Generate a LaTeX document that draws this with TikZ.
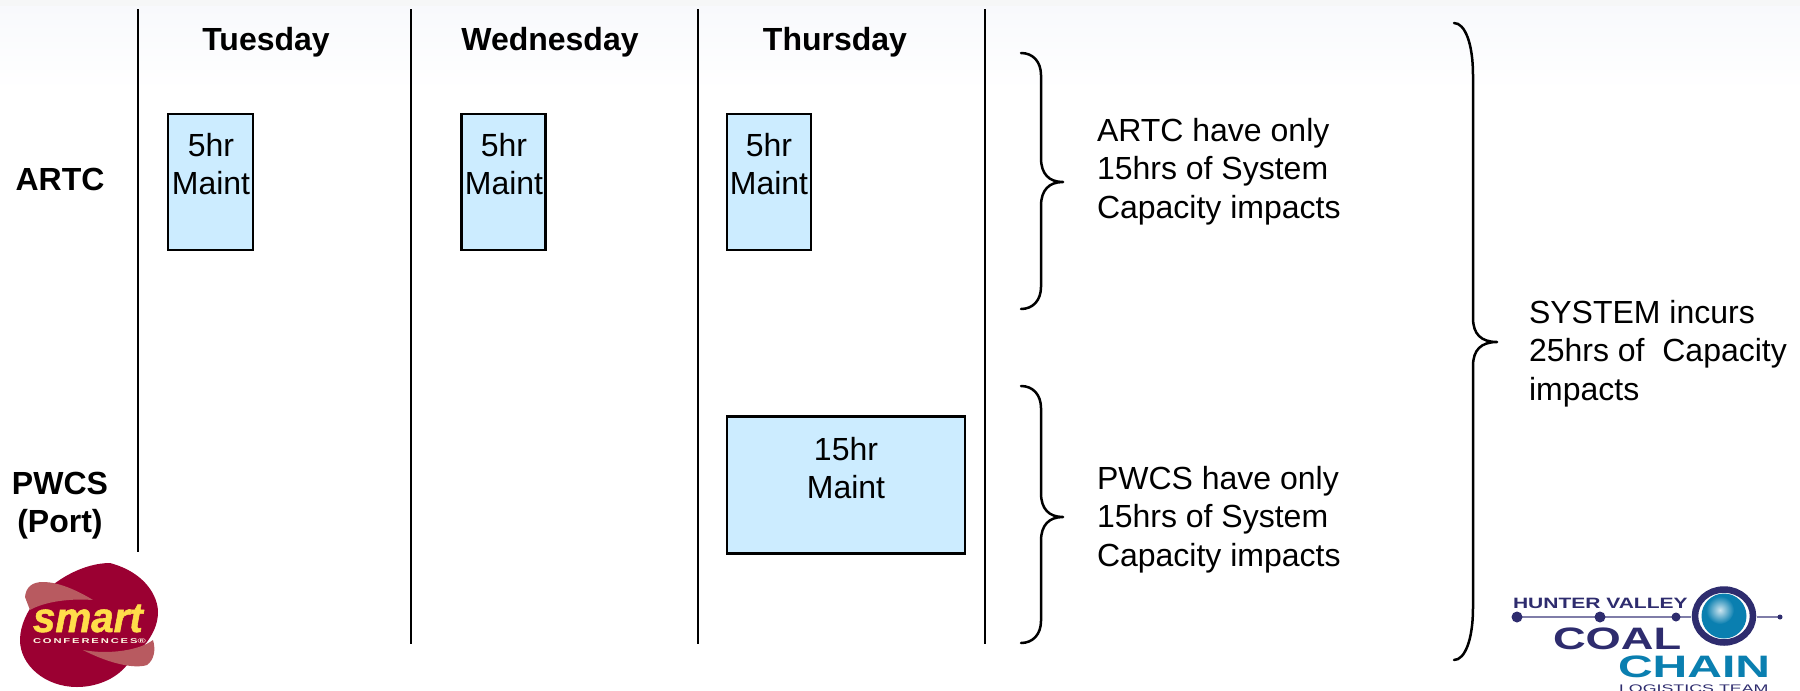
\documentclass[tikz,border=0pt]{standalone}
\usepackage{fontspec}
\setmainfont{Liberation Sans}
\newfontfamily\smartfont[UprightFont=* Bold Italic,UprightFeatures={FakeBold=1.3}]{Liberation Sans}
\newcommand{\mainsize}{\fontsize{32}{38.6}\selectfont}
\definecolor{boxblue}{HTML}{CCECFF}
\definecolor{smartred}{HTML}{9B0032}
\definecolor{smartwing}{HTML}{B85A60}
\definecolor{smartyellow}{HTML}{FFDD4A}
\definecolor{coalnavy}{HTML}{2E2C6E}
\definecolor{chainblue}{HTML}{0A7FB0}
\definecolor{linepurple}{HTML}{7F7DA8}
\definecolor{topband}{HTML}{F8F9FC}
\tikzset{
  x=1pt,y=-1pt,
  txt/.style={inner sep=0pt,outer sep=0pt,font=\mainsize,align=left,anchor=base west},
  ctxt/.style={inner sep=0pt,outer sep=0pt,font=\mainsize,align=center,anchor=base},
  btxt/.style={inner sep=0pt,outer sep=0pt,font=\mainsize\bfseries,align=center,anchor=base},
  maintbox/.style={draw=black,line width=2.5pt,fill=boxblue,inner sep=0pt},
  gridline/.style={draw=black,line width=2.5pt},
  bracecurve/.style={draw=black,line width=2.5pt,line cap=round,line join=round},
  logotxt/.style={inner sep=0pt,outer sep=0pt,anchor=base west}
}
\newcommand{\rightbrace}[7]{% left x, spine x, tip x, top y, tip y, bottom y, corner height
  \draw[bracecurve] (#1,#4) .. controls (#2-8,#4) and (#2,#4+#7*0.4) .. (#2,#4+#7)
    -- (#2,#5-24) .. controls (#2,#5-8) and (#2+8,#5) .. (#3,#5)
    .. controls (#2+8,#5) and (#2,#5+8) .. (#2,#5+24)
    -- (#2,#6-#7) .. controls (#2,#6-#7*0.4) and (#2-8,#6) .. (#1,#6);}
\begin{document}
\begin{tikzpicture}
\useasboundingbox (0,0) rectangle (1800,691);
\begin{scope}
\clip (0,0) rectangle (1800,691);
\fill[white] (0,0) rectangle (1800,691);
\shade[top color=topband,bottom color=white] (0,6) rectangle (1800,90);
\fill[topband!70!gray!20!white] (0,0) rectangle (1800,6);

% column rules
\draw[gridline] (138,9) -- (138,552);
\draw[gridline] (411,9) -- (411,644);
\draw[gridline] (698,9) -- (698,644);
\draw[gridline] (985,9) -- (985,644);

% headers
\node[btxt] (tue) at (266,50) {Tuesday};
\node[btxt] (wed) at (550,50) {Wednesday};
\node[btxt] (thu) at (835,50) {Thursday};
\node[btxt] (artc) at (60,190) {ARTC};
\node[btxt] (pwcs) at (60,532.6) {PWCS\\(Port)};

% maintenance boxes
\node[maintbox,minimum width=85pt,minimum height=136pt] (b1) at (210.5,182) {};
\node[maintbox,minimum width=84pt,minimum height=136pt] (b2) at (503.5,182) {};
\node[maintbox,minimum width=84pt,minimum height=136pt] (b3) at (769,182) {};
\node[maintbox,minimum width=238pt,minimum height=137pt] (b4) at (846,485) {};
\node[ctxt] (t1) at (211,194.6) {5hr\\Maint};
\node[ctxt] (t2) at (504,194.6) {5hr\\Maint};
\node[ctxt] (t3) at (769,194.6) {5hr\\Maint};
\node[ctxt] (t4) at (846,498.6) {15hr\\Maint};

% braces
\rightbrace{1021}{1041}{1063}{53}{182}{309}{22}
\rightbrace{1021}{1041}{1063}{386}{517}{643}{22}
\rightbrace{1454}{1473}{1497}{23}{342}{660}{52}

% brace texts
\node[txt] (ta) at (1097,218.2) {ARTC have only\\15hrs of System\\Capacity impacts};
\node[txt] (tp) at (1097,566.2) {PWCS have only\\15hrs of System\\Capacity impacts};
\node[txt] (ts) at (1529,400.2) {SYSTEM incurs\\25hrs of\ \ Capacity\\impacts};

% smart logo
\fill[smartred] (110,563) .. controls (147,573) and (158,598) .. (158,612)
  .. controls (158,625) and (152,635) .. (147,642) -- (127,665)
  .. controls (115,680) and (95,687) .. (77,687)
  .. controls (45,687) and (20,665) .. (20,640)
  .. controls (20,625) and (28,610) .. (35,602)
  .. controls (55,578) and (85,563) .. (110,563) -- cycle;
\fill[smartwing] (25,597) .. controls (26,587) and (32,582) .. (43,582) .. controls (60,582) and (80,592) .. (93,600) .. controls (65,598) and (42,603) .. (30,610) -- cycle;
\fill[smartwing] (83,650) .. controls (110,655) and (140,650) .. (153,640) .. controls (156,650) and (154,660) .. (147,665) .. controls (135,669) and (110,664) .. (83,650) -- cycle;
\node[logotxt,text=smartyellow,font=\fontsize{42}{42}\smartfont\selectfont,xscale=0.96] (smart) at (33,632) {smart};
\node[logotxt,text=white!85!smartyellow,font=\fontsize{7}{7}\selectfont\bfseries,xscale=1.6] (conf) at (33,643) {C\,O\,N\,F\,E\,R\,E\,N\,C\,E\,S®};

% hunter valley logo
\draw[linepurple,line width=1.2pt] (1517,617) -- (1780,617);
\fill[coalnavy] (1517,617) circle (5.5);
\fill[coalnavy] (1600,617) circle (5.5);
\fill[coalnavy] (1676,617) circle (4.5);
\fill[coalnavy] (1780,617) circle (2.5);
\fill[white] (1724,616) circle (33);
\draw[coalnavy,line width=6.5pt] (1724,616) ellipse (29 and 26.5);
\fill[chainblue] (1724,616) circle (22.5);
\shade[inner color=white!80!chainblue,outer color=chainblue] (1720,610) circle (14);
\node[logotxt,text=coalnavy,font=\fontsize{15}{15}\selectfont\bfseries,xscale=1.40] (hv) at (1513,608) {HUNTER VALLEY};
\node[logotxt,text=coalnavy,font=\fontsize{31}{31}\selectfont\bfseries,xscale=1.46] (coal) at (1553,649) {COAL};
\node[logotxt,text=chainblue,font=\fontsize{31}{31}\selectfont\bfseries,xscale=1.55] (chain) at (1618,677) {CHAIN};
\node[logotxt,text=coalnavy,font=\fontsize{11}{11}\selectfont,xscale=1.62] (lt) at (1619,692) {LOGISTICS TEAM};
\end{scope}
\end{tikzpicture}
\end{document}
